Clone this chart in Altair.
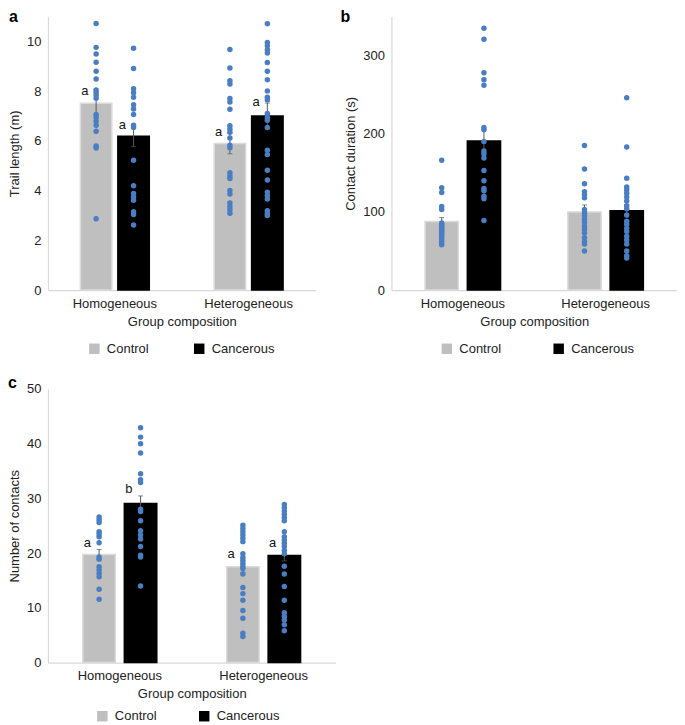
import altair as alt
import pandas as pd

GROUPS = ["Homogeneous", "Heterogeneous"]
TREATMENTS = ["Control", "Cancerous"]
BAR_COLORS = ["#bfbfbf", "#000000"]
DOT_COLOR = "#4a7ec2"
FONT = "Liberation Sans"

# ---------- panel a : trail length (m) ----------
a_means = [7.51, 6.19, 5.89, 7.00]      # Hom-Control, Hom-Cancerous, Het-Control, Het-Cancerous
a_sems = [0.47, 0.42, 0.41, 0.52]
a_letters = ["a", "a", "a", "a"]
a_hom_control = [10.72, 9.76, 9.49, 9.16, 8.80, 8.49, 8.05, 7.94, 7.83, 7.71, 7.06,
                 6.94, 6.79, 6.63, 6.39, 5.79, 5.71, 2.87]
a_hom_cancer = [9.72, 8.91, 8.10, 7.94, 7.75, 7.45, 7.28, 7.06, 6.63, 6.54, 5.22,
                4.20, 3.89, 3.74, 3.61, 3.15, 3.04, 2.62]
a_het_control = [9.67, 8.93, 8.42, 8.29, 7.70, 7.56, 7.27, 6.61, 6.48, 6.35, 6.12,
                 5.83, 5.72, 4.72, 4.59, 4.49, 4.01, 3.86, 3.50, 3.36, 3.23, 3.09]
a_het_cancer = [10.71, 9.96, 9.82, 9.66, 9.53, 9.15, 8.80, 8.46, 8.01, 7.75, 7.64,
                7.10, 6.94, 6.83, 6.54, 5.62, 5.45, 4.82, 4.43, 3.94, 3.80, 3.66,
                3.19, 3.08, 3.00]

# ---------- panel b : contact duration (s) ----------
b_means = [87.8, 190.8, 99.9, 101.5]
b_sems = [5, 15, 9, 8]
b_letters = ["", "", "", ""]
b_hom_control = [166, 131, 125, 107, 103, 86, 84, 82, 80, 78, 76, 74, 72, 70, 67, 64, 61, 58]
b_hom_cancer = [335, 321, 278, 269, 262, 208, 205, 190, 178, 174, 169, 153, 140, 130,
                127, 120, 117, 89]
b_het_control = [185, 155, 136, 126, 122, 118, 103, 99, 95, 91, 87, 82, 78, 73, 67,
                 62, 59, 50]
b_het_cancer = [246, 183, 143, 132, 128, 124, 119, 114, 108, 104, 96, 88, 84, 79, 75,
                69, 64, 59, 50, 44, 41]

# ---------- panel c : number of contacts ----------
c_means = [19.76, 29.05, 17.5, 19.57]
c_sems = [0.9, 1.4, 1.0, 1.0]
c_letters = ["a", "b", "a", "a"]
c_hom_control = [26.6, 26.1, 25.6, 23.9, 23.5, 23.0, 21.9, 19.3, 18.9, 17.5, 16.9,
                 16.3, 15.7, 13.4, 11.55]
c_hom_cancer = [42.9, 41.2, 40.0, 38.3, 34.5, 33.4, 32.9, 28.0, 27.6, 25.9, 24.1,
                23.3, 22.6, 21.2, 19.6, 19.3, 14.0]
c_het_control = [25.1, 24.5, 23.9, 23.3, 22.7, 22.1, 19.9, 19.2, 18.7, 18.1, 17.6,
                 17.2, 16.2, 13.7, 12.6, 11.4, 9.5, 8.1, 5.35, 4.74]
c_het_cancer = [28.9, 28.3, 27.7, 27.1, 26.5, 25.9, 23.9, 23.0, 22.4, 21.8, 21.2,
                20.5, 19.9, 17.6, 16.2, 13.9, 11.4, 9.1, 8.4, 7.8, 6.9, 5.8]

PAIRS = [(g, t) for g in GROUPS for t in TREATMENTS]


def summary_df(means, sems, letters):
    rows = []
    for (g, t), m, s, l in zip(PAIRS, means, sems, letters):
        rows.append({"group": g, "treatment": t, "mean": m,
                     "lo": m - s, "hi": m + s, "letter": l})
    return pd.DataFrame(rows)


def points_df(lists):
    rows = []
    for (g, t), vals in zip(PAIRS, lists):
        for v in vals:
            rows.append({"group": g, "treatment": t, "value": v})
    return pd.DataFrame(rows)


def panel(tag, tag_dx, ytitle, ymax, yticks, width, means, sems, letters, pts,
          pin, pout, barw, letter_dy, legx, legy, colpad):
    summ = summary_df(means, sems, letters)
    pdf = points_df(pts)
    x = alt.X("group:N", sort=GROUPS,
              scale=alt.Scale(paddingInner=0, paddingOuter=0),
              axis=alt.Axis(title="Group composition", labelAngle=0, ticks=False,
                            domainColor="#d9d9d9", domainWidth=1.2,
                            labelPadding=7, titlePadding=5))
    xo = alt.XOffset("treatment:N", sort=TREATMENTS,
                     scale=alt.Scale(paddingInner=pin, paddingOuter=pout))
    ysc = alt.Scale(domain=[0, ymax], nice=False, zero=True)
    yax = alt.Axis(title=ytitle, values=yticks, ticks=False, grid=False,
                   domainColor="#d9d9d9", domainWidth=1.2, labelPadding=7,
                   titlePadding=5)
    color = alt.Color("treatment:N", sort=TREATMENTS,
                      scale=alt.Scale(domain=TREATMENTS, range=BAR_COLORS),
                      legend=alt.Legend(title=None, orient="none", direction="horizontal",
                                        legendX=legx, legendY=legy, columnPadding=colpad,
                                        symbolType="square", symbolSize=110,
                                        symbolStrokeWidth=0, labelOffset=6, padding=0,
                                        labelFontSize=13, labelColor="#222222",
                                        labelFont=FONT))
    base = alt.Chart(summ)
    bars = base.mark_bar(strokeWidth=1.5).encode(
        x=x, xOffset=xo, y=alt.Y("mean:Q", scale=ysc, axis=yax), color=color,
        stroke=alt.condition("datum.treatment == 'Control'", alt.value("#dadada"),
                             alt.value("#000000")))
    err = base.mark_rule(color="#595959", strokeWidth=1).encode(
        x=x, xOffset=xo, y=alt.Y("lo:Q", scale=ysc, axis=yax), y2="hi:Q")
    cap_hi = base.mark_tick(color="#595959", size=5, thickness=1).encode(
        x=x, xOffset=xo, y=alt.Y("hi:Q", scale=ysc, axis=yax))
    cap_lo = base.mark_tick(color="#595959", size=5, thickness=1).encode(
        x=x, xOffset=xo, y=alt.Y("lo:Q", scale=ysc, axis=yax))
    dots = alt.Chart(pdf).mark_circle(size=30, color=DOT_COLOR, opacity=1).encode(
        x=x, xOffset=xo, y=alt.Y("value:Q", scale=ysc, axis=yax))
    txt = base.transform_filter("datum.letter != ''").mark_text(
        fontSize=13, font=FONT, color="#111111", baseline="middle", align="center",
        dx=-barw / 2 + 4.5, dy=letter_dy).encode(
        x=x, xOffset=xo, y=alt.Y("hi:Q", scale=ysc, axis=yax), text="letter:N")
    return alt.layer(bars, err, cap_hi, cap_lo, dots, txt).properties(
        width=width, height=274,
        title=alt.TitleParams(text=tag, anchor="start", frame="group", fontSize=16,
                              fontWeight="bold", font=FONT, color="#000000",
                              dx=tag_dx, dy=8, offset=0))


pa = panel("a", -39, "Trail length (m)", 11, [0, 2, 4, 6, 8, 10], 268,
           a_means, a_sems, a_letters,
           [a_hom_control, a_hom_cancer, a_het_control, a_het_cancer],
           0.16, 0.867, 31.5, -1, 40, 326, 44)
pb = panel("b", -51, "Contact duration (s)", 350, [0, 100, 200, 300], 286,
           b_means, b_sems, b_letters,
           [b_hom_control, b_hom_cancer, b_het_control, b_het_cancer],
           0.213, 0.797, 33.3, -1, 49, 326, 51)
pc = panel("c", -40, "Number of contacts", 50, [0, 10, 20, 30, 40, 50], 288,
           c_means, c_sems, c_letters,
           [c_hom_control, c_hom_cancer, c_het_control, c_het_cancer],
           0.217, 0.843, 32.5, -7, 48, 321, 41)

chart = alt.concat(pa, pb, pc, columns=2, bounds="flush", align="each",
                   spacing=alt.RowColnumber(row=99, column=56)).resolve_scale(
    x="independent", y="independent", color="independent", xOffset="independent"
).properties(padding={"left": 0, "top": 0, "right": 0, "bottom": 0}).configure(
    font=FONT
).configure_view(stroke=None).configure_axis(
    labelFont=FONT, titleFont=FONT, labelFontSize=13, titleFontSize=13,
    labelColor="#222222", titleColor="#222222", titleFontWeight="normal"
)

chart.save("out.html", embed_options={"renderer": "svg", "actions": False})
